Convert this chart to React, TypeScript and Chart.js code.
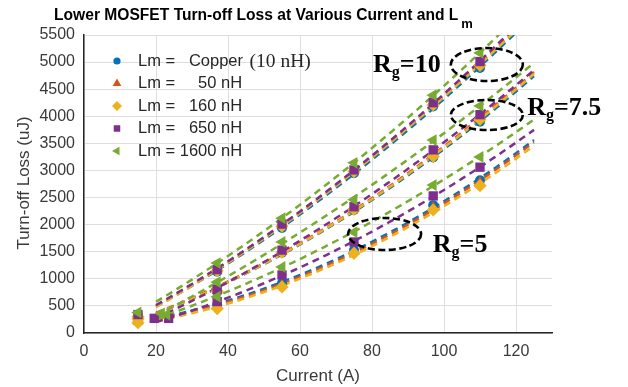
import { useEffect, useRef } from "react";
import { Chart, registerables } from "chart.js";
import { drawPoint } from "chart.js/helpers";

Chart.register(...registerables);

// ---- Measured data -------------------------------------------------------
// Load current (A) of each measurement; the first point of a few runs sits
// at a slightly different current.
const currentStd = [15, 37, 55, 75, 97, 110];
const current650Rg75 = [19.5, 37, 55, 75, 97, 110];
const current1600Rg75 = [21.5, 37, 55, 75, 97, 110];
const current650Rg5 = [23.5, 37, 55, 75, 97, 110];
const current1600Rg5 = [23, 37, 55, 75, 97, 110];

// Turn-off loss (uJ), Rg = 10
const copperRg10 = [320, 1130, 1940, 2950, 4180, 4890];
const lm50Rg10 = [330, 1160, 1990, 3000, 4230, 4960];
const lm160Rg10 = [300, 1150, 1970, 2980, 4210, 4940];
const lm650Rg10 = [340, 1170, 2010, 3010, 4250, 5010];
const lm1600Rg10 = [380, 1290, 2120, 3140, 4390, 5170];

// Turn-off loss (uJ), Rg = 7.5
const copperRg75 = [270, 760, 1480, 2270, 3240, 3900];
const lm50Rg75 = [280, 780, 1500, 2300, 3290, 3960];
const lm160Rg75 = [260, 770, 1490, 2280, 3260, 3940];
const lm650Rg75 = [270, 800, 1530, 2330, 3380, 4030];
const lm1600Rg75 = [360, 940, 1680, 2460, 3560, 4190];

// Turn-off loss (uJ), Rg = 5
const copperRg5 = [220, 520, 920, 1530, 2360, 2820];
const lm50Rg5 = [210, 490, 890, 1500, 2320, 2780];
const lm160Rg5 = [190, 450, 850, 1470, 2270, 2720];
const lm650Rg5 = [270, 580, 1070, 1680, 2530, 3060];
const lm1600Rg5 = [340, 670, 1220, 1860, 2730, 3250];

// Legend entries (label text)
const legendLead = ["Lm =   Copper ", "Lm =     50 nH", "Lm =   160 nH", "Lm =   650 nH", "Lm = 1600 nH"];
const legendSerifTail = ["(10 nH)", "", "", "", ""];

// Axis ranges and ticks
const xMin = 0;
const xMax = 130;
const xStep = 20;
const yMin = 0;
const yMax = 5500;
const yStep = 500;

// Trend lines span this current range
const fitFrom = 20;
const fitTo = 125;

// ---- Styling -------------------------------------------------------------
const SANS = '"Liberation Sans", Arial, Helvetica, sans-serif';
const SERIF = '"Liberation Serif", "Times New Roman", Times, serif';
const AXIS = "#262626";
const TICK = "#3a3a3a";
const GRID = "#dedede";

const colors = ["#0072BD", "#D95319", "#EDB120", "#7E2F8E", "#77AC30"];
const markerStyles: any[] = ["circle", "triangle", "rectRot", "rect", "triangle"];
const markerRotation = [0, 0, 0, 0, -90];
const markerRadius = [5, 6.3, 6.6, 6.6, 6.8];
const legendRadius = [3.6, 5, 5, 4.6, 5];

type Run = { x: number[]; y: number[] };

const groups: Run[][] = [
  [
    { x: currentStd, y: copperRg10 },
    { x: currentStd, y: lm50Rg10 },
    { x: currentStd, y: lm160Rg10 },
    { x: currentStd, y: lm650Rg10 },
    { x: currentStd, y: lm1600Rg10 },
  ],
  [
    { x: currentStd, y: copperRg75 },
    { x: currentStd, y: lm50Rg75 },
    { x: currentStd, y: lm160Rg75 },
    { x: current650Rg75, y: lm650Rg75 },
    { x: current1600Rg75, y: lm1600Rg75 },
  ],
  [
    { x: currentStd, y: copperRg5 },
    { x: currentStd, y: lm50Rg5 },
    { x: currentStd, y: lm160Rg5 },
    { x: current650Rg5, y: lm650Rg5 },
    { x: current1600Rg5, y: lm1600Rg5 },
  ],
];

// Rg callouts: ring centre in data units (current, loss), label anchor in data units
const rings = [
  { cx: 111.9, cy: 4955, rx: 36, ry: 16.5 },
  { cx: 111.9, cy: 4023, rx: 36, ry: 15 },
  { cx: 83.5, cy: 1827, rx: 36.5, ry: 16 },
];
const rgLabels = [
  { x: 80.3, y: 4808, value: "=10" },
  { x: 123.1, y: 4023, value: "=7.5" },
  { x: 96.9, y: 1495, value: "=5" },
];

// Least-squares quadratic trend of a run
function quadFit(xs: number[], ys: number[]): [number, number, number] {
  let s0 = 0, s1 = 0, s2 = 0, s3 = 0, s4 = 0, t0 = 0, t1 = 0, t2 = 0;
  for (let i = 0; i < xs.length; i++) {
    const x = xs[i], y = ys[i];
    s0 += 1; s1 += x; s2 += x * x; s3 += x * x * x; s4 += x * x * x * x;
    t0 += y; t1 += x * y; t2 += x * x * y;
  }
  const m = [
    [s0, s1, s2, t0],
    [s1, s2, s3, t1],
    [s2, s3, s4, t2],
  ];
  for (let c = 0; c < 3; c++) {
    for (let r = c + 1; r < 3; r++) {
      const f = m[r][c] / m[c][c];
      for (let k = c; k < 4; k++) m[r][k] -= f * m[c][k];
    }
  }
  const a = [0, 0, 0];
  for (let r = 2; r >= 0; r--) {
    let s = m[r][3];
    for (let k = r + 1; k < 3; k++) s -= m[r][k] * a[k];
    a[r] = s / m[r][r];
  }
  return [a[0], a[1], a[2]];
}

function buildDatasets() {
  const lines: any[] = [];
  const points: any[] = [];
  groups.forEach((runs) => {
    runs.forEach((run, i) => {
      const [c0, c1, c2] = quadFit(run.x, run.y);
      const trend: { x: number; y: number }[] = [];
      for (let xv = fitFrom; xv <= fitTo; xv += 1) {
        trend.push({ x: xv, y: c0 + c1 * xv + c2 * xv * xv });
      }
      lines.push({
        type: "line",
        data: trend,
        borderColor: colors[i],
        borderWidth: 2.5,
        borderDash: [7, 5],
        pointRadius: 0,
        fill: false,
        order: 20 + (4 - i),
      });
      points.push({
        type: "scatter",
        data: run.x.map((xv, k) => ({ x: xv, y: run.y[k] })),
        backgroundColor: colors[i],
        borderColor: colors[i],
        borderWidth: 0,
        pointStyle: markerStyles[i],
        rotation: markerRotation[i],
        pointRadius: markerRadius[i],
        order: 4 - i,
      });
    });
  });
  return [...lines, ...points];
}

const decorPlugin = {
  id: "decor",
  afterDatasetsDraw(chart: any) {
    const { ctx, scales } = chart;
    const xs = scales.x;
    const ys = scales.y;

    // dashed rings around the Rg clusters
    ctx.save();
    ctx.strokeStyle = "#000";
    ctx.lineWidth = 2.6;
    ctx.setLineDash([7, 3.5]);
    for (const r of rings) {
      ctx.beginPath();
      ctx.ellipse(xs.getPixelForValue(r.cx), ys.getPixelForValue(r.cy), r.rx, r.ry, 0, 0, Math.PI * 2);
      ctx.stroke();
    }
    ctx.restore();

    // Rg labels
    ctx.save();
    ctx.fillStyle = "#000";
    ctx.textBaseline = "alphabetic";
    ctx.textAlign = "left";
    for (const l of rgLabels) {
      let px = xs.getPixelForValue(l.x);
      const py = ys.getPixelForValue(l.y);
      ctx.font = `bold 26px ${SERIF}`;
      ctx.fillText("R", px, py);
      px += ctx.measureText("R").width;
      ctx.font = `bold 16px ${SERIF}`;
      ctx.fillText("g", px, py + 5);
      px += ctx.measureText("g").width;
      ctx.font = `bold 26px ${SERIF}`;
      ctx.fillText(l.value, px, py);
    }
    ctx.restore();

    // legend
    ctx.save();
    const lx = chart.chartArea.left + 33;
    const tx = chart.chartArea.left + 54;
    for (let i = 0; i < legendLead.length; i++) {
      const ly = 61 + i * 22.5;
      ctx.fillStyle = colors[i];
      drawPoint(ctx, { pointStyle: markerStyles[i], rotation: markerRotation[i], radius: legendRadius[i], borderWidth: 0 } as any, lx, ly);
      ctx.fillStyle = AXIS;
      ctx.textBaseline = "middle";
      ctx.textAlign = "left";
      ctx.font = `16.5px ${SANS}`;
      ctx.fillText(legendLead[i], tx, ly);
      if (legendSerifTail[i]) {
        const w = ctx.measureText(legendLead[i]).width;
        ctx.font = `19.5px ${SERIF}`;
        ctx.fillText(legendSerifTail[i], tx + w + 2, ly + 0.5);
      }
    }
    ctx.restore();
  },
  afterDraw(chart: any) {
    const { ctx, chartArea } = chart;
    ctx.save();
    // title with subscript
    const main = "Lower MOSFET Turn-off Loss at Various Current and L";
    ctx.fillStyle = "#000";
    ctx.textBaseline = "alphabetic";
    ctx.textAlign = "left";
    ctx.font = `bold 15.6px ${SANS}`;
    const wMain = ctx.measureText(main).width;
    ctx.font = `bold 13px ${SANS}`;
    const wSub = ctx.measureText("m").width;
    const total = wMain + 3 + wSub;
    const startX = 263.5 - total / 2;
    ctx.font = `bold 15.6px ${SANS}`;
    ctx.fillText(main, startX, 19.5);
    ctx.font = `bold 13px ${SANS}`;
    ctx.fillText("m", startX + wMain + 3, 27.5);

    // axis titles
    ctx.fillStyle = TICK;
    ctx.font = `17px ${SANS}`;
    ctx.textAlign = "center";
    ctx.textBaseline = "middle";
    ctx.fillText("Current (A)", (chartArea.left + chartArea.right) / 2, 376);
    ctx.translate(24, 183);
    ctx.rotate(-Math.PI / 2);
    ctx.fillText("Turn-off Loss (uJ)", 0, 0);
    ctx.restore();
  },
};

export default function App() {
  const ref = useRef<HTMLCanvasElement>(null);
  useEffect(() => {
    document.body.style.margin = "0";
    const canvas = ref.current!;
    const chart = new Chart(canvas, {
      type: "scatter",
      data: { datasets: buildDatasets() },
      options: {
        responsive: false,
        animation: false,
        devicePixelRatio: 1,
        layout: { padding: { top: 35, right: 76, left: 0, bottom: 0 } },
        plugins: {
          legend: { display: false },
          title: { display: false },
          tooltip: { enabled: false },
        },
        scales: {
          x: {
            type: "linear",
            min: xMin,
            max: xMax,
            afterFit: (s: any) => {
              s.height = 54;
            },
            ticks: {
              stepSize: xStep,
              includeBounds: false,
              color: TICK,
              font: { family: SANS, size: 16 },
              padding: 9,
              maxRotation: 0,
              callback: (v: any) => String(v),
            },
            grid: { color: GRID, lineWidth: 1, drawTicks: false },
            border: { display: true, color: AXIS, width: 1.5 },
          },
          y: {
            type: "linear",
            min: yMin,
            max: yMax,
            afterFit: (s: any) => {
              s.width = 84;
            },
            ticks: {
              stepSize: yStep,
              color: TICK,
              font: { family: SANS, size: 16 },
              padding: 9,
              callback: (v: any) => String(v),
            },
            grid: { color: GRID, lineWidth: 1, drawTicks: false },
            border: { display: true, color: AXIS, width: 1.5 },
          },
        },
      } as any,
      plugins: [decorPlugin],
    });
    return () => chart.destroy();
  }, []);
  return <canvas ref={ref} width={628} height={387} style={{ display: "block", width: 628, height: 387 }} />;
}
